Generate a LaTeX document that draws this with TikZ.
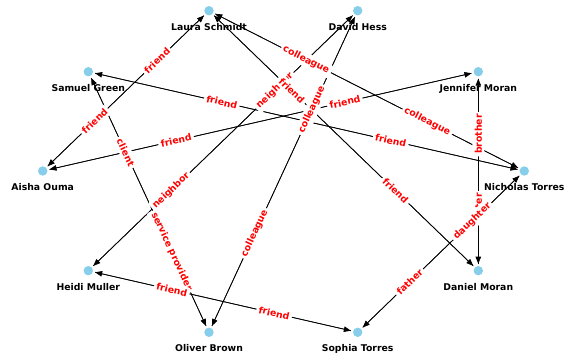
\documentclass[tikz,border=0pt]{standalone}
\usepackage{fontspec}
\setmainfont{DejaVu Sans}
\usepackage{xcolor}
\usepackage{tikz}
\usetikzlibrary{arrows.meta}

\definecolor{skyblue}{HTML}{87CEEB}

\begin{document}
\begin{tikzpicture}[
    x=1pt, y=-1pt,
    who/.style={font=\bfseries\fontsize{9.3}{11}\selectfont, inner sep=0pt, text height=7pt, text depth=0pt, label distance=5.3pt},
    person/.style={circle, fill=skyblue, minimum size=9.4pt, inner sep=0pt, outer sep=2.3pt, label={[who]below:#1}},
    link/.style={-{Triangle[length=7pt,width=5.5pt]}, line width=0.7pt},
    rel/.style={pos=0.7, sloped, font=\bfseries\fontsize{9.3}{11}\selectfont, text=red, fill=white, rounded corners=2pt, inner sep=2.4pt}
]
\useasboundingbox (0,0) rectangle (571,356);

\node[person=Laura Schmidt] (laura) at (209,10.7) {};
\node[person=David Hess] (david) at (357.7,10.7) {};
\node[person=Samuel Green] (samuel) at (88.3,71.7) {};
\node[person=Jennifer Moran] (jennifer) at (478.3,71.7) {};
\node[person=Aisha Ouma] (aisha) at (42.7,171) {};
\node[person=Nicholas Torres] (nicholas) at (524.3,171) {};
\node[person=Heidi Muller] (heidi) at (88.3,270.7) {};
\node[person=Daniel Moran] (daniel) at (478.3,270.7) {};
\node[person=Oliver Brown] (oliver) at (209,332.3) {};
\node[person=Sophia Torres] (sophia) at (357.7,332.3) {};

% connectors
\draw[link] (aisha) -- (laura);
\draw[link] (laura) -- (aisha);
\draw[link] (nicholas) -- (laura);
\draw[link] (laura) -- (nicholas);
\draw[link] (daniel) -- (laura);
\draw[link] (laura) -- (daniel);
\draw[link] (nicholas) -- (samuel);
\draw[link] (samuel) -- (nicholas);
\draw[link] (oliver) -- (samuel);
\draw[link] (samuel) -- (oliver);
\draw[link] (jennifer) -- (aisha);
\draw[link] (aisha) -- (jennifer);
\draw[link] (heidi) -- (david);
\draw[link] (david) -- (heidi);
\draw[link] (oliver) -- (david);
\draw[link] (david) -- (oliver);
\draw[link] (daniel) -- (jennifer);
\draw[link] (jennifer) -- (daniel);
\draw[link] (sophia) -- (nicholas);
\draw[link] (nicholas) -- (sophia);
\draw[link] (sophia) -- (heidi);
\draw[link] (heidi) -- (sophia);

% labels on top of all lines
\path (heidi) -- node[rel] {neighbor} (david);
\path (david) -- node[rel] {neighbor} (heidi);
\path (aisha) -- node[rel] {friend} (laura);
\path (laura) -- node[rel] {friend} (aisha);
\path (nicholas) -- node[rel] {colleague} (laura);
\path (laura) -- node[rel] {colleague} (nicholas);
\path (daniel) -- node[rel] {friend} (laura);
\path (laura) -- node[rel] {friend} (daniel);
\path (nicholas) -- node[rel] {friend} (samuel);
\path (samuel) -- node[rel] {friend} (nicholas);
\path (oliver) -- node[rel] {client} (samuel);
\path (samuel) -- node[rel] {service provider} (oliver);
\path (jennifer) -- node[rel] {friend} (aisha);
\path (aisha) -- node[rel] {friend} (jennifer);
\path (oliver) -- node[rel] {colleague} (david);
\path (david) -- node[rel] {colleague} (oliver);
\path (daniel) -- node[rel] {brother} (jennifer);
\path (daniel) -- node[rel, pos=0.3] {sister} (jennifer);
\path (sophia) -- node[rel] {daughter} (nicholas);
\path (nicholas) -- node[rel] {father} (sophia);
\path (sophia) -- node[rel] {friend} (heidi);
\path (heidi) -- node[rel] {friend} (sophia);

\end{tikzpicture}
\end{document}
